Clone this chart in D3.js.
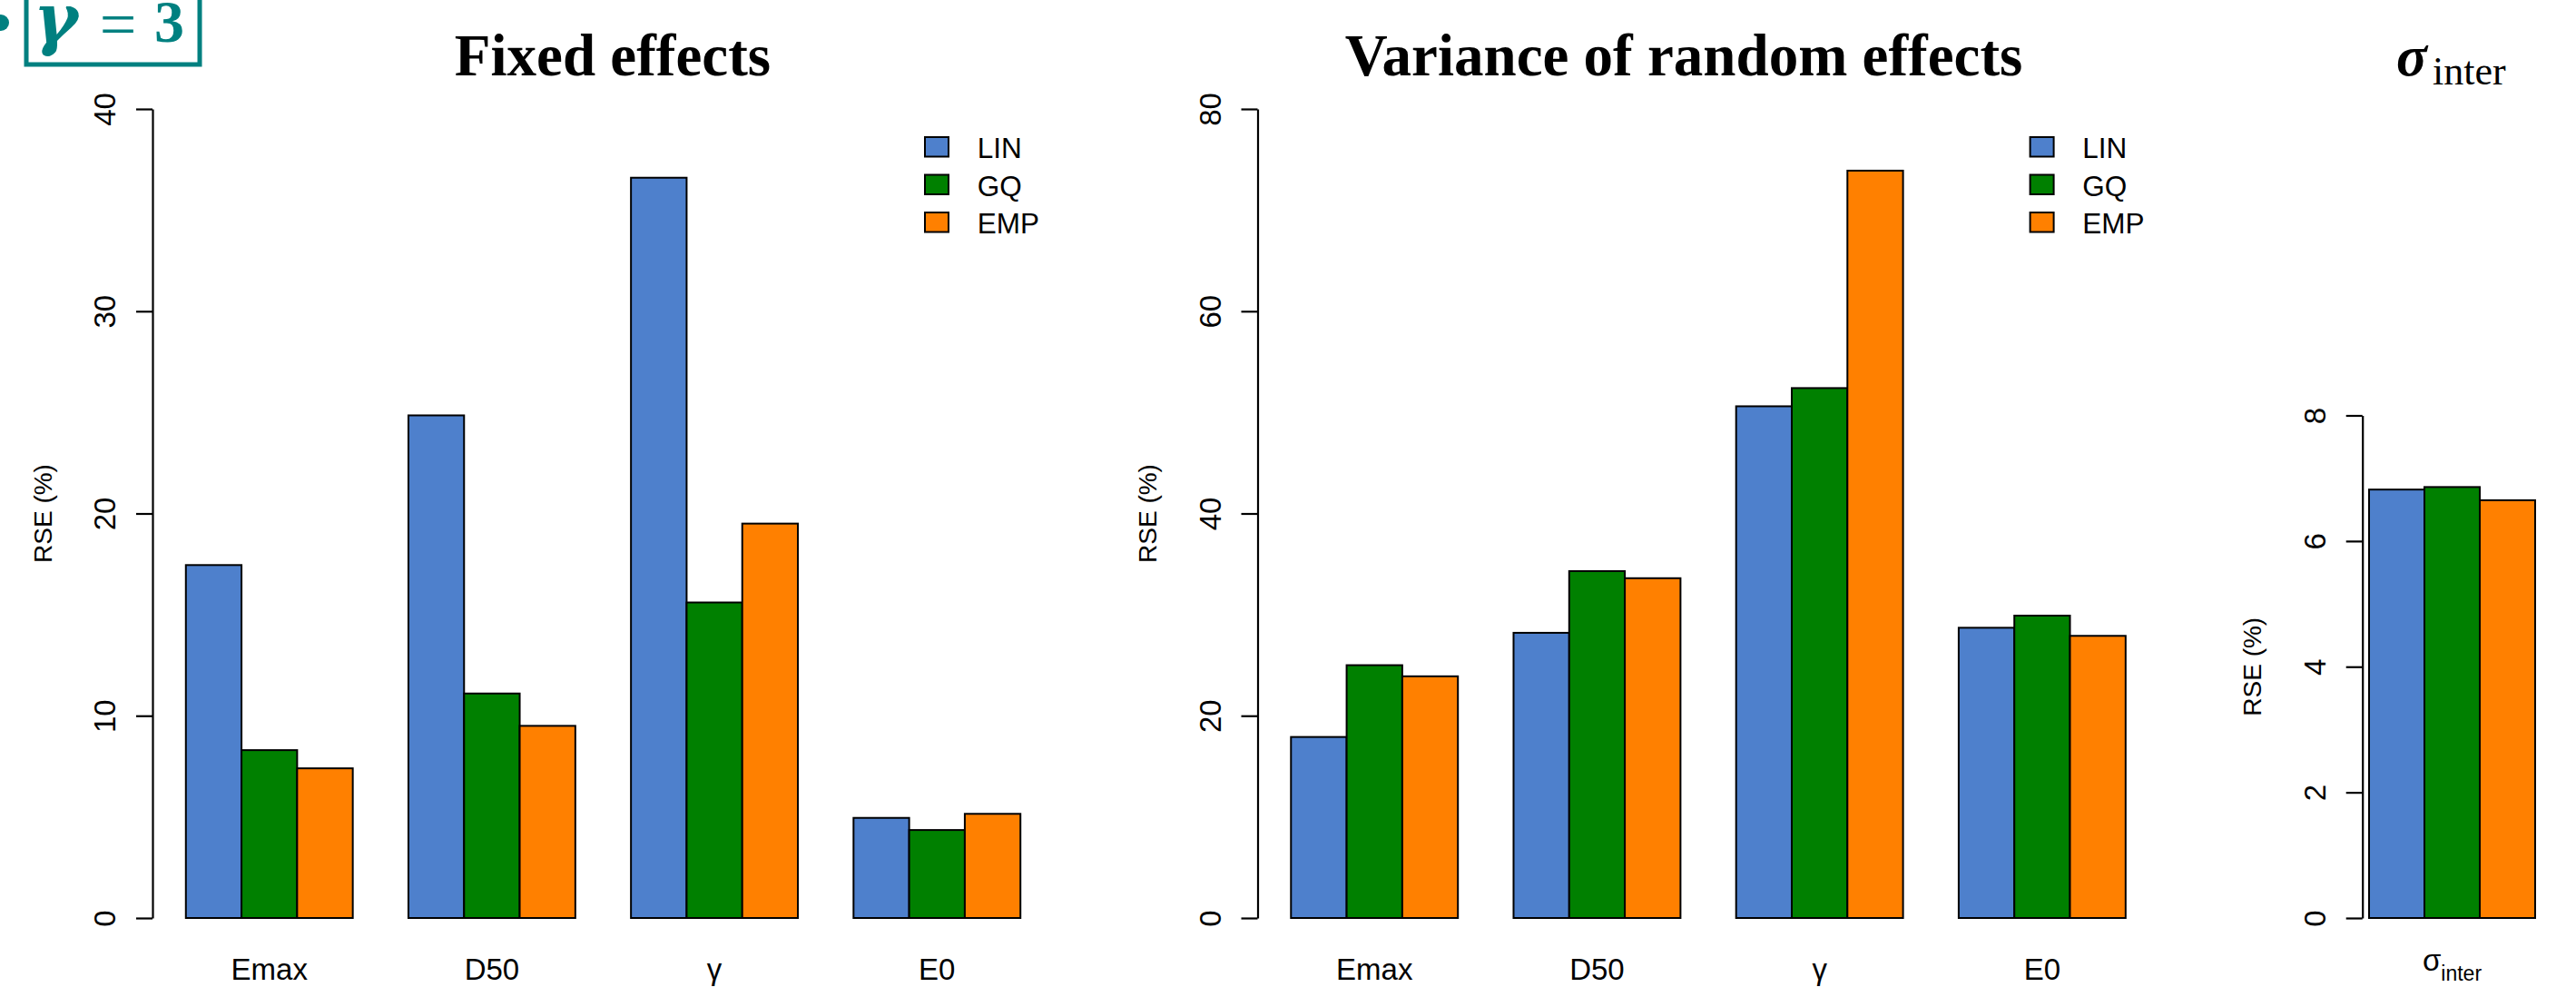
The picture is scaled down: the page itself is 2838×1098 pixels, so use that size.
<!DOCTYPE html>
<html>
<head>
<meta charset="utf-8">
<script src="https://cdn.jsdelivr.net/npm/d3@7"></script>
<style>
  body { margin: 0; background: #fff; }
  svg { display: block; }
</style>
</head>
<body>
<svg id="chart" width="2838" height="1098"></svg>
<script>
// ---------- data ----------
const categories = ["Emax", "D50", "\u03B3", "E0"];
const seriesNames = ["LIN", "GQ", "EMP"];
const seriesColors = ["#4e80cc", "#008000", "#ff8000"];

const fixedLIN = [17.45, 24.85, 36.6, 4.95];
const fixedGQ  = [8.3, 11.1, 15.6, 4.35];
const fixedEMP = [7.4, 9.5, 19.5, 5.15];

const varLIN = [17.9, 28.2, 50.6, 28.7];
const varGQ  = [25.0, 34.3, 52.4, 29.9];
const varEMP = [23.9, 33.6, 73.9, 27.9];

const sigmaCategories = ["sigma_inter"];
const sigmaLIN = [6.82];
const sigmaGQ  = [6.86];
const sigmaEMP = [6.65];

const fixedTicks = [0, 10, 20, 30, 40];
const varTicks = [0, 20, 40, 60, 80];
const sigmaTicks = [0, 2, 4, 6, 8];

// ---------- drawing ----------
const svg = d3.select("#chart");
svg.append("rect").attr("width", 2838).attr("height", 1098).attr("fill", "#fff");

const SANS = "'Liberation Sans', Arial, Helvetica, sans-serif";
const SERIF = "'Liberation Serif', 'Times New Roman', serif";

function panel(opts) {
  const { left, right, top, bottom, yMax, ticks, cats, values, padInner, padOuter, legend, catLabel } = opts;
  const g = svg.append("g");
  const x0 = d3.scaleBand().domain(cats).range([left, right])
    .paddingInner(padInner).paddingOuter(padOuter);
  const x1 = d3.scaleBand().domain(seriesNames).range([0, x0.bandwidth()]).padding(0);
  const y = d3.scaleLinear().domain([0, yMax]).range([bottom, top]);
  const color = d3.scaleOrdinal().domain(seriesNames).range(seriesColors);

  const rows = [];
  cats.forEach((c, i) => seriesNames.forEach((s, j) => rows.push({ c, s, v: values[j][i] })));

  g.selectAll("rect.bar").data(rows).enter().append("rect")
    .attr("class", "bar")
    .attr("x", d => x0(d.c) + x1(d.s))
    .attr("y", d => y(d.v))
    .attr("width", x1.bandwidth())
    .attr("height", d => y(0) - y(d.v))
    .attr("fill", d => color(d.s))
    .attr("stroke", "#000")
    .attr("stroke-width", 2);

  // y axis
  const axisX = left;
  const ax = g.append("g").attr("transform", `translate(${axisX},0)`)
    .call(d3.axisLeft(y).tickValues(ticks).tickSize(18).tickSizeOuter(0).tickFormat(d3.format("d")));
  ax.select(".domain").attr("stroke", "#000").attr("stroke-width", 2.2);
  ax.selectAll(".tick line").attr("stroke", "#000").attr("stroke-width", 2.2);
  ax.selectAll(".tick text")
    .attr("transform", "rotate(-90)")
    .attr("x", 0).attr("y", -41).attr("dy", 0)
    .attr("text-anchor", "middle")
    .attr("font-family", SANS).attr("font-size", 33).attr("fill", "#000");

  // y label
  g.append("text")
    .attr("transform", `translate(${axisX - 111.5},${(top + bottom) / 2}) rotate(-90)`)
    .attr("text-anchor", "middle")
    .attr("font-family", SANS).attr("font-size", 28)
    .text("RSE (%)");

  // category labels
  if (catLabel) {
    catLabel(g, x0);
  } else {
    g.selectAll("text.cat").data(cats).enter().append("text")
      .attr("class", "cat")
      .attr("x", d => x0(d) + x0.bandwidth() / 2)
      .attr("y", 1079)
      .attr("text-anchor", "middle")
      .attr("font-family", SANS).attr("font-size", 33)
      .text(d => d);
  }

  // legend
  if (legend) {
    const lg = g.append("g");
    seriesNames.forEach((s, i) => {
      lg.append("rect")
        .attr("x", right - 142).attr("y", 151 + i * 41.5)
        .attr("width", 26).attr("height", 21.5)
        .attr("fill", color(s)).attr("stroke", "#000").attr("stroke-width", 2);
      lg.append("text")
        .attr("x", right - 84.3).attr("y", 174 + i * 41.5)
        .attr("font-family", SANS).attr("font-size", 31.5)
        .text(s);
    });
  }
  return g;
}

panel({ left: 168, right: 1161, top: 120, bottom: 1011, yMax: 40, ticks: fixedTicks,
  cats: categories, values: [fixedLIN, fixedGQ, fixedEMP],
  padInner: 0.25, padOuter: 0.15, legend: true });

panel({ left: 1385.5, right: 2378.6, top: 120, bottom: 1011, yMax: 80, ticks: varTicks,
  cats: categories, values: [varLIN, varGQ, varEMP],
  padInner: 0.25, padOuter: 0.15, legend: true });

panel({ left: 2602.7, right: 2800.3, top: 457.5, bottom: 1011, yMax: 8, ticks: sigmaTicks,
  cats: sigmaCategories, values: [sigmaLIN, sigmaGQ, sigmaEMP],
  padInner: 0, padOuter: 0.04, legend: false,
  catLabel: (g, x0) => {
    const cx = x0(sigmaCategories[0]) + x0.bandwidth() / 2;
    const t = g.append("text").attr("x", cx).attr("y", 1069)
      .attr("text-anchor", "middle").attr("font-family", SANS).attr("font-size", 33);
    t.append("tspan").text("\u03C3");
    t.append("tspan").attr("font-size", 23).attr("dy", 11).text("inter");
  } });

// ---------- titles ----------
svg.append("text").attr("x", 675).attr("y", 83)
  .attr("text-anchor", "middle").attr("font-family", SERIF)
  .attr("font-weight", "bold").attr("font-size", 65).text("Fixed effects");

svg.append("text").attr("x", 1855).attr("y", 83)
  .attr("text-anchor", "middle").attr("font-family", SERIF)
  .attr("font-weight", "bold").attr("font-size", 65).text("Variance of random effects");

const st = svg.append("text").attr("x", 2640).attr("y", 83)
  .attr("font-family", SERIF).attr("font-size", 63);
st.append("tspan").attr("font-weight", "bold").attr("font-style", "italic").text("\u03C3");
st.append("tspan").attr("font-size", 44).attr("dx", 6).attr("dy", 10).text("inter");

// ---------- slide fragment: bullet + boxed gamma = 3 ----------
const teal = "#008080";
svg.append("circle").attr("cx", 1).attr("cy", 25).attr("r", 9).attr("fill", teal);
svg.append("rect").attr("x", 29).attr("y", -20).attr("width", 191).attr("height", 91)
  .attr("fill", "none").attr("stroke", teal).attr("stroke-width", 5);
svg.append("text").attr("x", 37).attr("y", 46)
  .attr("font-family", "'DejaVu Serif', serif").attr("font-weight", "bold").attr("font-style", "italic")
  .attr("font-size", 74).attr("fill", teal).text("\u03B3");
svg.append("text").attr("x", 130).attr("y", 51)
  .attr("text-anchor", "middle")
  .attr("font-family", SERIF).attr("font-size", 72).attr("fill", teal).text("=");
svg.append("text").attr("x", 170).attr("y", 46)
  .attr("font-family", SERIF).attr("font-weight", "bold")
  .attr("font-size", 66).attr("fill", teal).text("3");
</script>
</body>
</html>
